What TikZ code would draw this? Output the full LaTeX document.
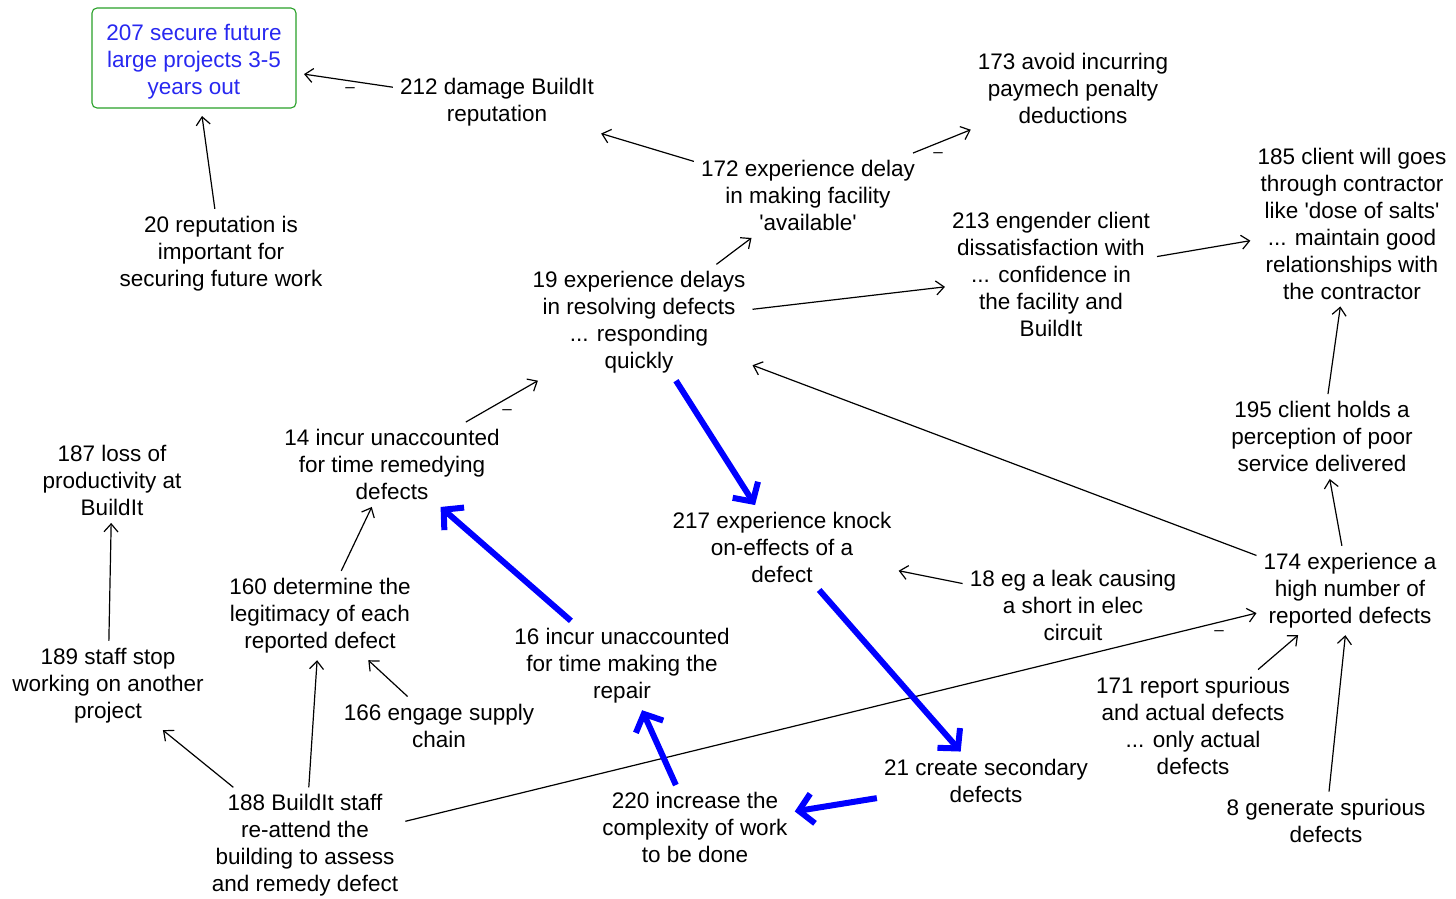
\documentclass[tikz,border=0pt]{standalone}
\usepackage{fontspec}
\setmainfont{Liberation Sans}
\usetikzlibrary{arrows.meta}
\definecolor{boxgreen}{RGB}{40,160,40}
\definecolor{goalblue}{RGB}{40,40,240}
\newcommand\sq{\textquotesingle}
\begin{document}
\begin{tikzpicture}[x=1pt,y=-1pt,
  lbl/.style={align=center,font=\fontsize{22.5}{27}\selectfont,inner sep=7pt,text=black,yshift=-2.5pt},
  goal/.style={lbl,text=goalblue,draw=boxgreen,line width=1.1pt,rounded corners=5pt,
    minimum width=204pt,minimum height=100pt,inner sep=2pt,outer sep=8pt},
  neg/.style={font=\fontsize{17}{17}\selectfont,inner sep=0pt},
  link/.style={draw=black,line width=1.2pt,-{Straight Barb[length=8pt,width=14pt]}},
  hot/.style={draw=blue,line width=6pt,-{Straight Barb[length=14pt,width=30pt,line width=6pt]}},
]
\useasboundingbox (0,0) rectangle (1456,898);

% concepts
\node[goal] (n207) at (194,55.5) {\raisebox{-8.5pt}[0pt][0pt]{\parbox{190pt}{\centering 207 secure future\\large projects 3-5\\years out}}};
\node[lbl] (n212) at (497,100) {212 damage BuildIt\\reputation};
\node[lbl] (n173) at (1073,86) {173 avoid incurring\\paymech penalty\\deductions};
\node[lbl] (n172) at (808,193) {172 experience delay\\in making facility\\\sq available\sq};
\node[lbl] (n185) at (1352,221) {185 client will goes\\through contractor\\like \sq dose of salts\sq\\... maintain good\\relationships with\\the contractor};
\node[lbl] (n20) at (221,251) {20 reputation is\\important for\\securing future work};
\node[lbl] (n213) at (1051,272) {213 engender client\\dissatisfaction with\\... confidence in\\the facility and\\BuildIt};
\node[lbl] (n19) at (639,320) {19 experience delays\\in resolving defects\\... responding\\quickly};
\node[lbl] (n14) at (392,462) {14 incur unaccounted\\for time remedying\\defects};
\node[lbl] (n187) at (112,478) {187 loss of\\productivity at\\BuildIt};
\node[lbl] (n195) at (1322,434) {195 client holds a\\perception of poor\\service delivered};
\node[lbl] (n217) at (782,545) {217 experience knock\\on-effects of a\\defect};
\node[lbl] (n18) at (1073,603) {18 eg a leak causing\\a short in elec\\circuit};
\node[lbl] (n174) at (1350,588) {174 experience a\\high number of\\reported defects};
\node[lbl] (n160) at (320,613) {160 determine the\\legitimacy of each\\reported defect};
\node[lbl] (n16) at (622,663) {16 incur unaccounted\\for time making the\\repair};
\node[lbl] (n189) at (108,683) {189 staff stop\\working on another\\project};
\node[lbl] (n166) at (439,723) {166 engage supply\\chain};
\node[lbl] (n171) at (1193,723) {171 report spurious\\and actual defects\\... only actual\\defects};
\node[lbl] (n21) at (986,778) {21 create secondary\\defects};
\node[lbl] (n220) at (695,825) {220 increase the\\complexity of work\\to be done};
\node[lbl] (n8) at (1326,818) {8 generate spurious\\defects};
\node[lbl] (n188) at (305,843) {188 BuildIt staff\\re-attend the\\building to assess\\and remedy defect};

% negative link markers
\node[neg] (m1) at (350,90) {–};
\node[neg] (m2) at (938,155) {–};
\node[neg] (m3) at (507,412) {–};
\node[neg] (m4) at (1219,633) {–};

% ordinary links
\draw[link] (n212) -- (n207);
\draw[link] (n20) -- (n207);
\draw[link] (n172) -- (n212);
\draw[link] (n172) -- (n173);
\draw[link] (n19) -- (n172);
\draw[link] (n19) -- (n213);
\draw[link] (n213) -- (n185);
\draw[link] (n195) -- (n185);
\draw[link] (n174) -- (n195);
\draw[link] (n174) -- (n19);
\draw[link] (n14) -- (n19);
\draw[link] (n160) -- (n14);
\draw[link] (n18) -- (n217);
\draw[link] (n188) -- (n174);
\draw[link] (n171) -- (n174);
\draw[link] (n8) -- (n174);
\draw[link] (n166) -- (n160);
\draw[link] (n188) -- (n160);
\draw[link] (n188) -- (n189);
\draw[link] (n189) -- (n187);

% highlighted chain
\draw[hot] (n19) -- (n217);
\draw[hot] (n16) -- (n14);
\draw[hot] (n217) -- (n21);
\draw[hot] (n220) -- (n16);
\draw[hot] (n21) -- (n220);
\end{tikzpicture}
\end{document}
